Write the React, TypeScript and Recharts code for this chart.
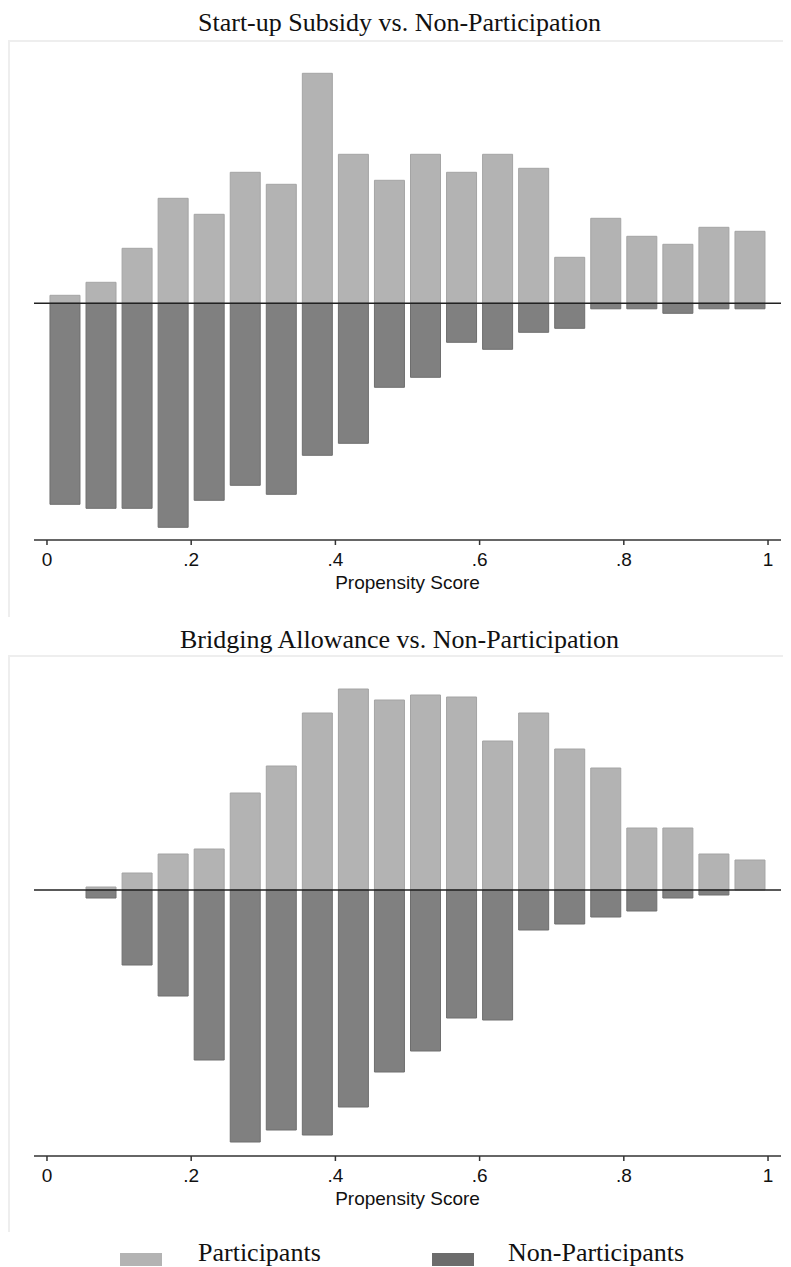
import React from "react"
import { Bar, BarChart, XAxis, YAxis, ReferenceLine } from "recharts"

// bin midpoints of the propensity score histogram (width .05)
const binMids = [
  0.025, 0.075, 0.125, 0.175, 0.225, 0.275, 0.325, 0.375, 0.425, 0.475,
  0.525, 0.575, 0.625, 0.675, 0.725, 0.775, 0.825, 0.875, 0.925, 0.975,
]

const startupParticipants = [8, 21, 55, 105, 89, 131, 119, 230, 149, 123, 149, 131, 149, 135, 46, 85, 67, 59, 76, 72]
const startupNonParticipants = [201, 205, 205, 224, 197, 182, 191, 152, 140, 84, 74, 39, 46, 29, 25, 5.5, 5.5, 10, 5.5, 5.5]

const bridgingParticipants = [0, 3, 17, 36, 41, 97, 124, 177, 201, 190, 195, 193, 149, 177, 141, 122, 62, 62, 36, 30]
const bridgingNonParticipants = [0, 8, 75, 106, 170, 252, 240, 245, 217, 182, 161, 128, 130, 40, 34, 27, 21, 8, 5, 0]

const xTicks = [0, 0.2, 0.4, 0.6, 0.8, 1]

const LIGHT = "#b3b3b3"
const DARK = "#808080"

function buildRows(part: number[], nonPart: number[]) {
  return binMids.map((x, i) => ({ x, part: part[i], nonPart: -nonPart[i] }))
}

function fmtTick(v: number) {
  if (v === 0) return "0"
  if (v === 1) return "1"
  return String(v).replace(/^0/, "")
}

interface PanelProps {
  top: number
  title: string
  titleBaseline: number
  rows: Array<{ x: number; part: number; nonPart: number }>
  yDomain: [number, number]
  marginTop: number
  marginBottom: number
}

function Panel({ top, title, titleBaseline, rows, yDomain, marginTop, marginBottom }: PanelProps) {
  return (
    <div>
      <div
        style={{
          position: "absolute",
          left: 0,
          top: titleBaseline - 8 - 24,
          width: 783,
          textAlign: "center",
          fontFamily: "'Liberation Serif', serif",
          fontSize: 26,
          lineHeight: "30px",
          color: "#111",
        }}
      >
        {title}
      </div>
      <div
        style={{
          position: "absolute",
          left: 0,
          top: top - 8,
          width: 781,
          height: 575,
          borderTop: "2px solid #eeeeee",
          borderLeft: "2px solid #eeeeee",
        }}
      />
      <div style={{ position: "absolute", left: 0, top: top - 8 }}>
        <BarChart
          width={783}
          height={577}
          data={rows}
          stackOffset="sign"
          margin={{ top: marginTop, right: 10, bottom: marginBottom, left: 26 }}
        >
          <XAxis
            dataKey="x"
            type="number"
            domain={[-0.018, 1.018]}
            allowDataOverflow
            ticks={xTicks}
            tickFormatter={fmtTick}
            tickSize={5}
            tickMargin={8}
            height={52}
            axisLine={{ stroke: "#333", strokeWidth: 1.5 }}
            tickLine={{ stroke: "#333", strokeWidth: 1.5 }}
            tick={{ fill: "#111", fontSize: 19, fontFamily: "'Liberation Sans', sans-serif" }}
            label={{
              value: "Propensity Score",
              position: "insideBottom",
              offset: 3,
              fill: "#111",
              fontSize: 19,
              fontFamily: "'Liberation Sans', sans-serif",
            }}
          />
          <YAxis
            type="number"
            domain={yDomain}
            allowDataOverflow
            width={0}
            tick={false}
            tickLine={false}
            axisLine={{ stroke: "#000", strokeWidth: 1.5 }}
          />
          <ReferenceLine y={0} stroke="#222" strokeWidth={1.5} />
          <Bar
            dataKey="part"
            stackId="s"
            barSize={30}
            fill={LIGHT}
            stroke="#a4a4a4"
            strokeWidth={1}
            isAnimationActive={false}
          />
          <Bar
            dataKey="nonPart"
            stackId="s"
            barSize={30}
            fill={DARK}
            stroke="#6e6e6e"
            strokeWidth={1}
            isAnimationActive={false}
          />
        </BarChart>
      </div>
    </div>
  )
}

export default function App() {
  const startupRows = buildRows(startupParticipants, startupNonParticipants)
  const bridgingRows = buildRows(bridgingParticipants, bridgingNonParticipants)

  return (
    <div style={{ position: "relative", width: 775, height: 1258 }}>
      <Panel
        top={40}
        title="Start-up Subsidy vs. Non-Participation"
        titleBaseline={32}
        rows={startupRows}
        yDomain={[-236.7, 242.3]}
        marginTop={21}
        marginBottom={25}
      />
      <Panel
        top={655}
        title="Bridging Allowance vs. Non-Participation"
        titleBaseline={649}
        rows={bridgingRows}
        yDomain={[-266, 213]}
        marginTop={22}
        marginBottom={24}
      />
      {/* legend */}
      <div
        style={{
          position: "absolute",
          top: 1253 - 8,
          left: 0,
          width: 775,
          height: 13,
          fontFamily: "'Liberation Serif', serif",
          fontSize: 26,
          color: "#111",
        }}
      >
        <div style={{ position: "absolute", left: 112, top: 0, width: 42, height: 13, background: LIGHT }} />
        <div style={{ position: "absolute", left: 190, top: -15, lineHeight: "30px", whiteSpace: "nowrap" }}>
          Participants
        </div>
        <div style={{ position: "absolute", left: 424, top: 0, width: 42, height: 13, background: "#6c6c6c" }} />
        <div style={{ position: "absolute", left: 500, top: -15, lineHeight: "30px", whiteSpace: "nowrap" }}>
          Non-Participants
        </div>
      </div>
    </div>
  )
}
